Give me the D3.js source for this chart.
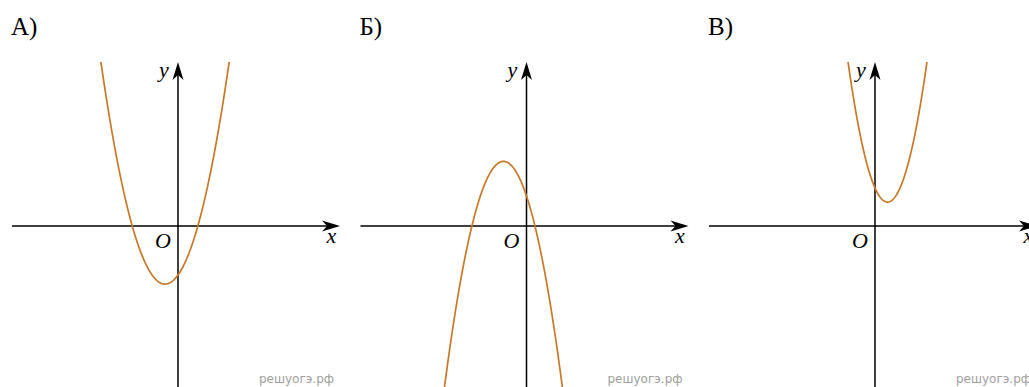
<!DOCTYPE html>
<html><head><meta charset="utf-8">
<script src="https://cdn.jsdelivr.net/npm/d3@7"></script>
<style>body{margin:0;background:#fff}svg{display:block}
.serif{font-family:"Liberation Serif","Times New Roman",Times,serif}
</style>
</head><body>
<script>
// Panel labels and parabola coefficients y = a x^2 + b x + c (units of grid)
const panelLabels = ["А)", "Б)", "В)"];
const coefA = [1.08, 1.4, -2.45];
const coefB = [-1.3, -3.0, 1.5];
const coefC = [1.8, -2.25, 1.9];
const coefs = [coefA, coefB, coefC];
const axisLabels = ["x", "y", "O"];
const watermark = "решуогэ.рф";

const W = 1029, H = 387;
const svg = d3.select("body").append("svg").attr("width", W).attr("height", H);
const panelStep = 348.5;

const x = d3.scaleLinear().domain([-8.3, 8.1]).range([12, 340]);
const y = d3.scaleLinear().domain([8.2, -8.05]).range([62, 387]);

const curveColor = "#c97828";

svg.append("defs").append("clipPath").attr("id", "clip")
  .append("rect").attr("x", 0).attr("y", y(8.2)).attr("width", 349).attr("height", H);

const arrow = "M0,0 L-18,-5.5 L-13,0 L-18,5.5 Z";

coefs.forEach((cf, i) => {
  const g = svg.append("g").attr("transform", `translate(${i * panelStep},0)`);
  g.append("text").attr("class", "serif").attr("x", 11).attr("y", 35)
    .attr("font-size", 25).attr("fill", "#000")
    .text(panelLabels[i]);
  const x0 = x(0), y0 = y(0);
  g.append("line").attr("x1", x.range()[0]).attr("x2", x.range()[1] - 10)
    .attr("y1", y0).attr("y2", y0).attr("stroke", "#000").attr("stroke-width", 1.5);
  g.append("path").attr("d", arrow).attr("transform", `translate(${x.range()[1]},${y0})`).attr("fill", "#000");
  g.append("line").attr("x1", x0).attr("x2", x0)
    .attr("y1", y.range()[0] + 10).attr("y2", H).attr("stroke", "#000").attr("stroke-width", 1.5);
  g.append("path").attr("d", arrow).attr("transform", `translate(${x0},${y.range()[0]}) rotate(-90)`).attr("fill", "#000");
  g.append("text").attr("class", "serif").attr("x", x.range()[1] - 13.5).attr("y", y0 + 17)
    .attr("font-style", "italic").attr("font-size", 22).text(axisLabels[0]);
  g.append("text").attr("class", "serif").attr("x", x0 - 19).attr("y", y.range()[0] + 15)
    .attr("font-style", "italic").attr("font-size", 22).text(axisLabels[1]);
  g.append("text").attr("class", "serif").attr("x", x0 - 7).attr("y", y0 + 22).attr("text-anchor", "end")
    .attr("font-style", "italic").attr("font-size", 22).text(axisLabels[2]);
  const xs = d3.range(-8.3, 8.1001, 0.02);
  const pts = xs.map(t => [t, cf[0] * t * t + cf[1] * t + cf[2]]);
  const line = d3.line().x(d => x(d[0])).y(d => y(Math.max(-30, Math.min(30, d[1]))));
  g.append("path").attr("d", line(pts)).attr("clip-path", "url(#clip)")
    .attr("fill", "none").attr("stroke", curveColor).attr("stroke-width", 1.7);
  g.append("text").attr("x", 259).attr("y", 383)
    .style("font-family", "'DejaVu Sans', Verdana, sans-serif").attr("font-size", 12).attr("fill", "#a0a0a0")
    .text(watermark);
});
</script>
</body></html>
